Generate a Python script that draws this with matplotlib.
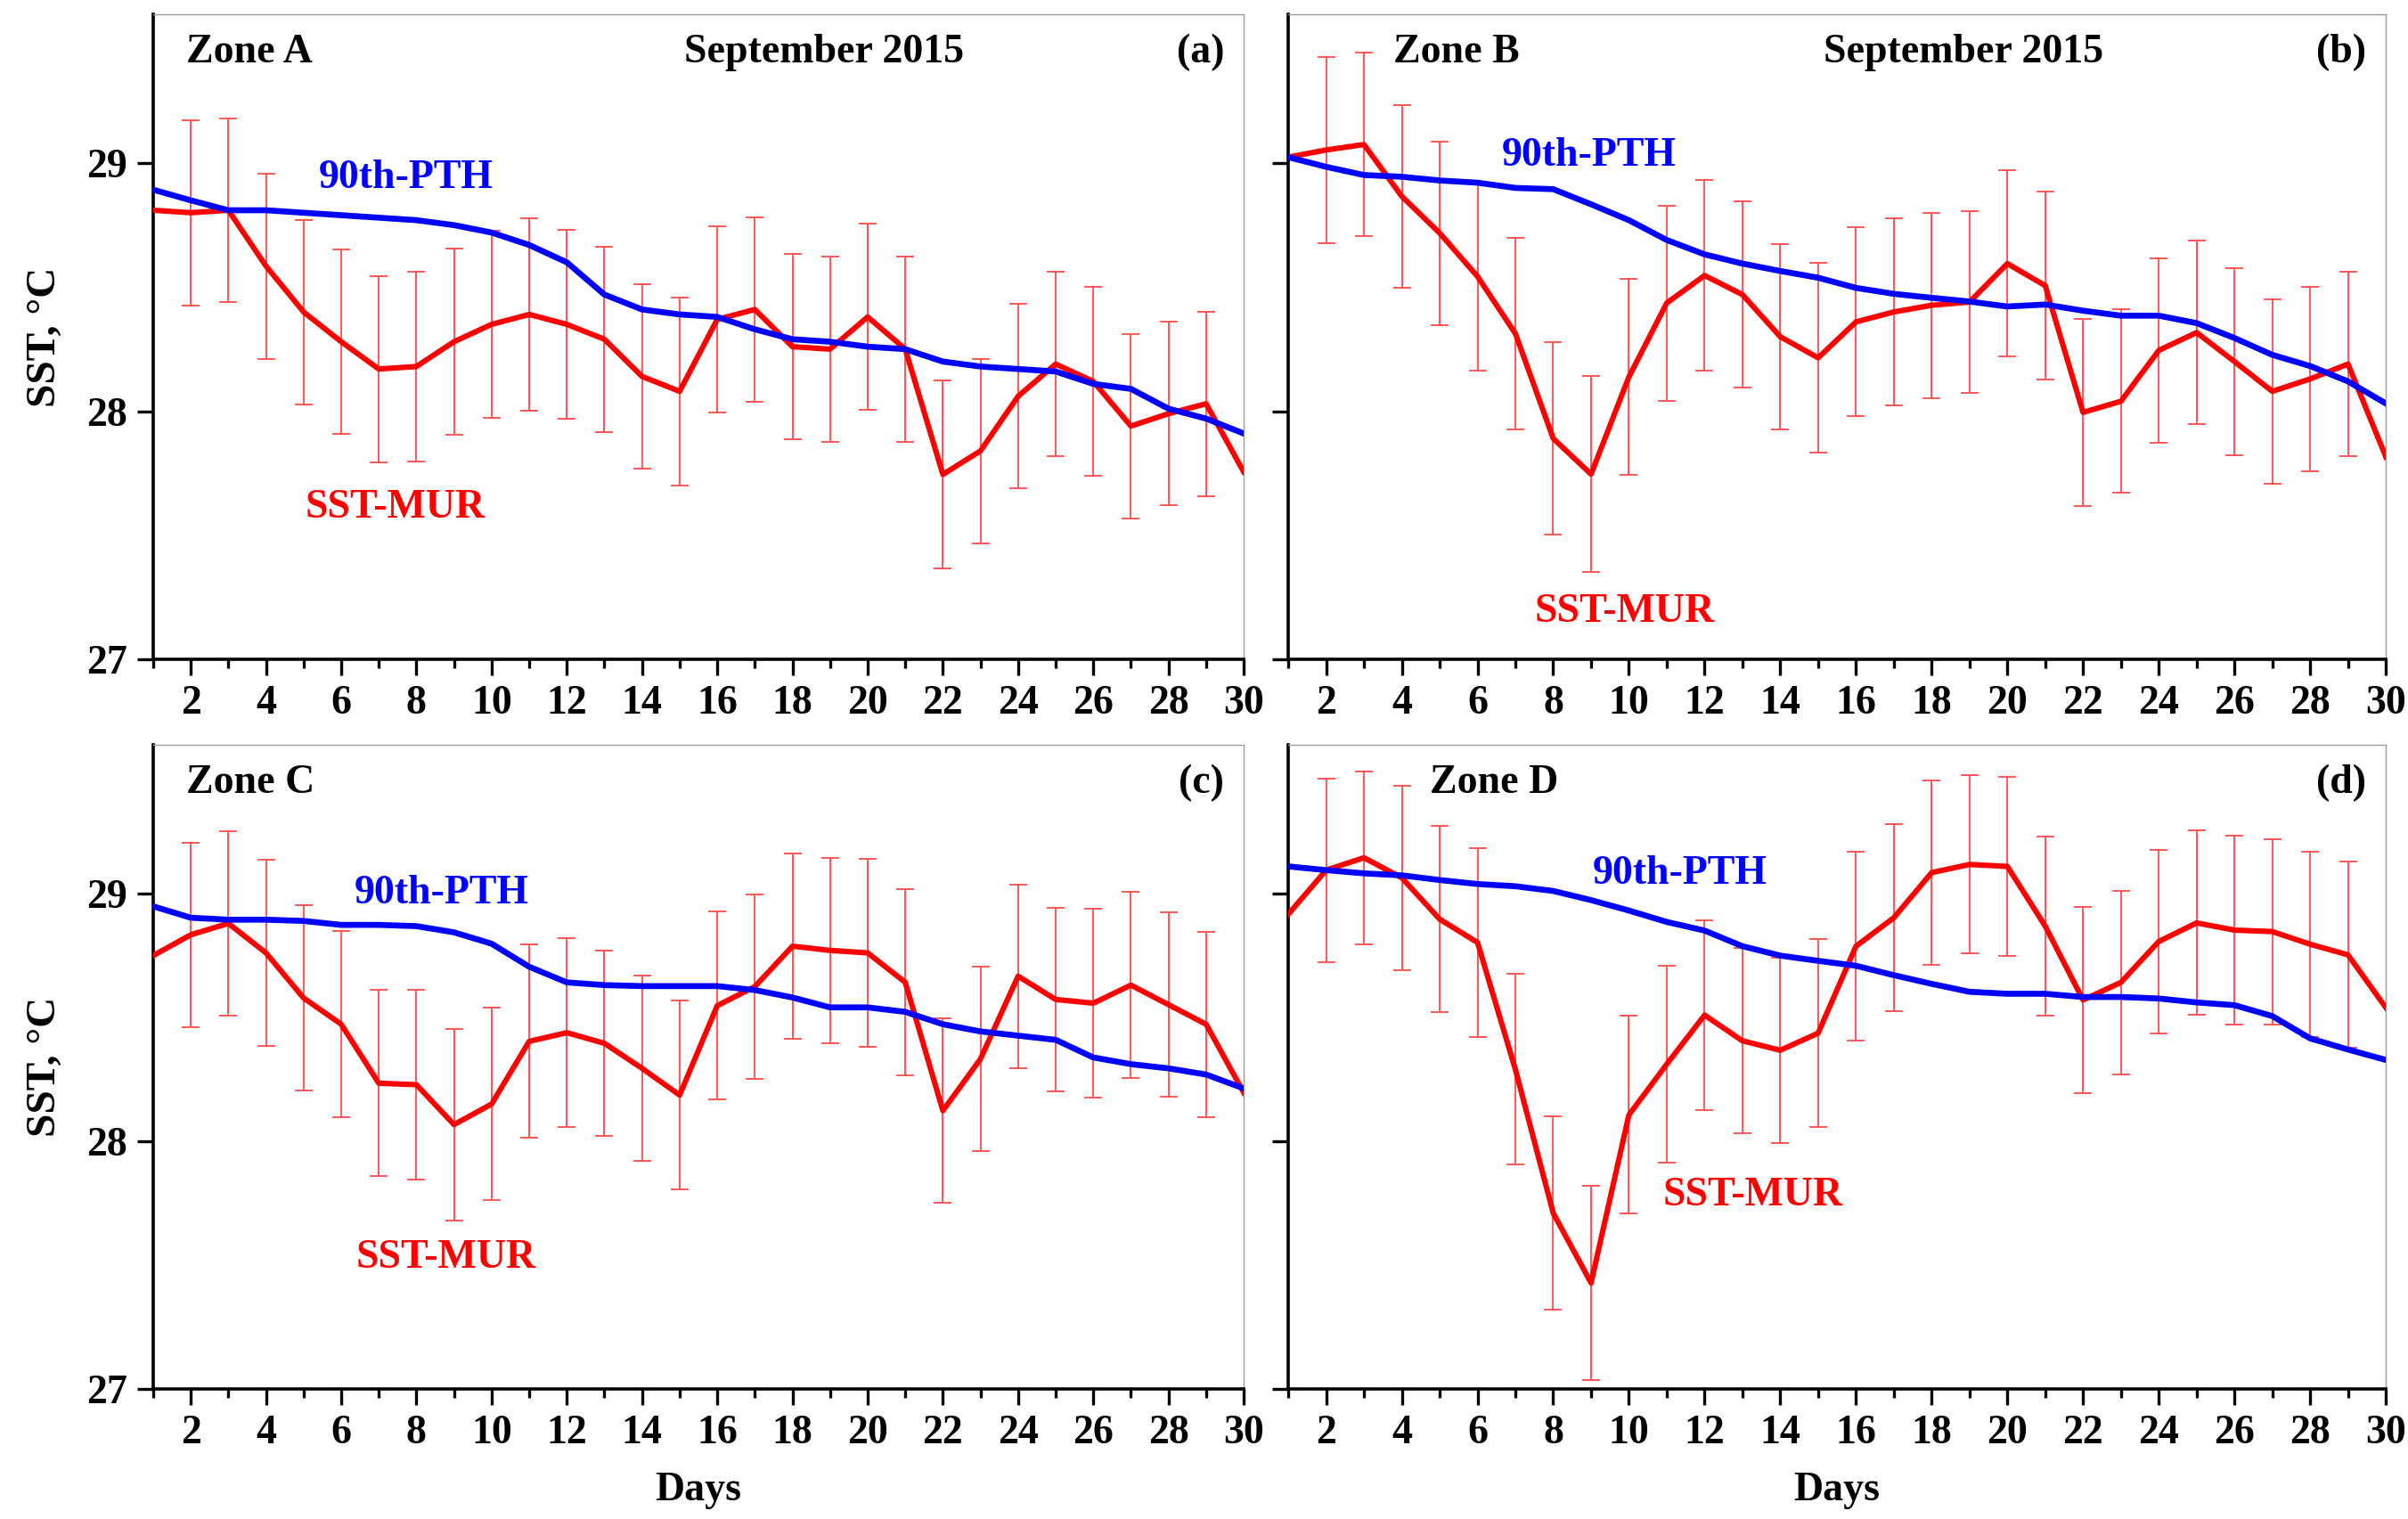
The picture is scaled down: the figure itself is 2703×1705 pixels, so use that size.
import numpy as np
import matplotlib
matplotlib.use("Agg")
import matplotlib.pyplot as plt
from matplotlib.ticker import MultipleLocator

plt.rcParams['font.family'] = ['Liberation Serif', 'DejaVu Serif']
plt.rcParams['font.weight'] = 'bold'

days = np.arange(1, 31)

# SST-MUR daily mean, Sept 2015
mur_a = [28.81, 28.80, 28.81, 28.585, 28.40, 28.28, 28.17, 28.18, 28.28, 28.35,
         28.39, 28.35, 28.29, 28.14, 28.08, 28.37, 28.41, 28.26, 28.25, 28.38,
         28.25, 27.745, 27.84, 28.06, 28.19, 28.12, 27.94, 27.99, 28.03, 27.755]
mur_b = [29.024, 29.053, 29.075, 28.866, 28.718, 28.543, 28.313, 27.89, 27.746, 28.138,
         28.436, 28.547, 28.47, 28.30, 28.215, 28.36, 28.40, 28.427, 28.44, 28.595,
         28.506, 27.995, 28.04, 28.245, 28.317, 28.20, 28.08, 28.13, 28.19, 27.816]
mur_c = [28.749, 28.833, 28.879, 28.76, 28.578, 28.472, 28.234, 28.228, 28.067, 28.15,
         28.403, 28.438, 28.395, 28.294, 28.186, 28.547, 28.624, 28.787, 28.77, 28.76,
         28.641, 28.123, 28.332, 28.666, 28.572, 28.557, 28.63, 28.551, 28.472, 28.196]
mur_d = [28.916, 29.094, 29.144, 29.063, 28.896, 28.802, 28.29, 27.71, 27.428, 28.106,
         28.311, 28.509, 28.405, 28.367, 28.436, 28.787, 28.902, 29.084, 29.117, 29.109,
         28.868, 28.57, 28.641, 28.806, 28.881, 28.852, 28.846, 28.795, 28.752, 28.539]

# 90th percentile threshold
pth_a = [28.893, 28.85, 28.81, 28.81, 28.80, 28.79, 28.78, 28.77, 28.75, 28.72,
         28.67, 28.60, 28.47, 28.41, 28.39, 28.38, 28.33, 28.29, 28.28, 28.26,
         28.25, 28.20, 28.18, 28.17, 28.16, 28.11, 28.09, 28.01, 27.97, 27.91]
pth_b = [29.024, 28.985, 28.952, 28.945, 28.93, 28.921, 28.90, 28.895, 28.834, 28.77,
         28.69, 28.632, 28.595, 28.565, 28.538, 28.497, 28.473, 28.457, 28.442, 28.422,
         28.43, 28.405, 28.385, 28.385, 28.355, 28.295, 28.227, 28.182, 28.12, 28.031]
pth_c = [28.948, 28.902, 28.894, 28.894, 28.889, 28.873, 28.873, 28.868, 28.843, 28.797,
         28.704, 28.641, 28.63, 28.626, 28.626, 28.626, 28.61, 28.58, 28.54, 28.54,
         28.522, 28.472, 28.443, 28.426, 28.409, 28.338, 28.311, 28.294, 28.269, 28.213]
pth_d = [29.109, 29.094, 29.081, 29.073, 29.054, 29.038, 29.029, 29.01, 28.973, 28.931,
         28.885, 28.85, 28.787, 28.749, 28.728, 28.708, 28.67, 28.635, 28.603, 28.595,
         28.595, 28.582, 28.582, 28.576, 28.56, 28.549, 28.505, 28.415, 28.37, 28.328]

# error bars, days 2..29 (days 1 and 30 sit on the frame)
err_a = [0.374, 0.369, 0.373, 0.372, 0.373, 0.376, 0.383, 0.375, 0.376, 0.389,
         0.382, 0.373, 0.373, 0.378, 0.376, 0.371, 0.373, 0.372, 0.375, 0.375,
         0.378, 0.372, 0.372, 0.372, 0.382, 0.372, 0.370, 0.372]
err_b = [0.375, 0.370, 0.368, 0.370, 0.378, 0.385, 0.387, 0.395, 0.395, 0.393,
         0.385, 0.375, 0.373, 0.382, 0.380, 0.376, 0.374, 0.368, 0.375, 0.380,
         0.377, 0.370, 0.371, 0.370, 0.378, 0.372, 0.371, 0.372]
err_c = [0.372, 0.373, 0.377, 0.375, 0.376, 0.376, 0.383, 0.387, 0.388, 0.390,
         0.381, 0.374, 0.374, 0.381, 0.380, 0.371, 0.373, 0.373, 0.380, 0.375,
         0.372, 0.372, 0.371, 0.371, 0.380, 0.375, 0.372, 0.374]
err_d = [0.371, 0.349, 0.373, 0.375, 0.380, 0.385, 0.390, 0.391, 0.399, 0.398,
         0.383, 0.374, 0.373, 0.380, 0.382, 0.377, 0.371, 0.360, 0.360, 0.361,
         0.375, 0.370, 0.370, 0.372, 0.380, 0.374, 0.374, 0.376]

zones = ['Zone A', 'Zone B', 'Zone C', 'Zone D']
tags = ['(a)', '(b)', '(c)', '(d)']
murs = [mur_a, mur_b, mur_c, mur_d]
pths = [pth_a, pth_b, pth_c, pth_d]
errs = [err_a, err_b, err_c, err_d]
# label anchors (day, SST)
pth_pos = [(5.4, 28.90), (6.65, 28.99), (6.36, 28.96), (9.05, 29.04)]
mur_pos = [(5.05, 27.57), (7.5, 27.15), (6.4, 27.49), (10.9, 27.74)]
zone_x = [0.030, 0.096, 0.030, 0.129]

fig = plt.figure(figsize=(27.03, 17.05), dpi=100)
rects = [[0.0636, 0.566, 0.4529, 0.4246],
         [0.535, 0.566, 0.4558, 0.4246],
         [0.0636, 0.0856, 0.4529, 0.4241],
         [0.535, 0.0856, 0.4558, 0.4241]]

fs = 33
for i in range(4):
    ax = fig.add_axes(rects[i])
    ax.errorbar(days[1:-1], murs[i][1:-1], yerr=errs[i], fmt='none',
                ecolor='#ff5555', elinewidth=1.4, capsize=7, capthick=1.4, zorder=2)
    ax.plot(days, murs[i], color='#ff0000', lw=4.4, zorder=3)
    ax.plot(days, pths[i], color='#0000ff', lw=4.8, zorder=4)

    ax.set_xlim(1, 30)
    ax.set_ylim(27, 29.6)
    ax.xaxis.set_major_locator(MultipleLocator(2))
    ax.xaxis.set_minor_locator(MultipleLocator(1))
    ax.set_yticks([27, 28, 29])
    ax.tick_params(axis='both', which='major', length=13, width=2.4,
                   labelsize=fs, pad=8, direction='out')
    ax.tick_params(axis='x', which='minor', length=7, width=2.4, direction='out')
    ax.tick_params(top=False, right=False)
    for lab in ax.get_xticklabels() + ax.get_yticklabels():
        lab.set_fontweight('bold')
    if i % 2 == 1:
        ax.set_yticklabels([])
    for s in ['left', 'bottom']:
        ax.spines[s].set_linewidth(2.6)
    for s in ['top', 'right']:
        ax.spines[s].set_linewidth(1.0)
        ax.spines[s].set_color('#9a9a9a')

    ax.text(zone_x[i], 0.925, zones[i], transform=ax.transAxes, fontsize=fs,
            fontweight='bold', va='baseline', ha='left')
    ax.text(0.982, 0.925, tags[i], transform=ax.transAxes, fontsize=fs,
            fontweight='bold', va='baseline', ha='right')
    if i < 2:
        ax.text(0.615, 0.925, 'September 2015', transform=ax.transAxes, fontsize=fs,
                fontweight='bold', va='baseline', ha='center')
    ax.text(pth_pos[i][0], pth_pos[i][1], '90th-PTH', color='#0000ff', fontsize=fs,
            fontweight='bold', va='baseline', ha='left')
    ax.text(mur_pos[i][0], mur_pos[i][1], 'SST-MUR', color='#ff0000', fontsize=fs,
            fontweight='bold', va='baseline', ha='left')

    if i % 2 == 0:
        ax.set_ylabel('SST, °C', fontsize=fs + 1, fontweight='bold', labelpad=18)
    if i >= 2:
        ax.set_xlabel('Days', fontsize=fs, fontweight='bold', labelpad=16)

fig.savefig('out.png', dpi=100)
